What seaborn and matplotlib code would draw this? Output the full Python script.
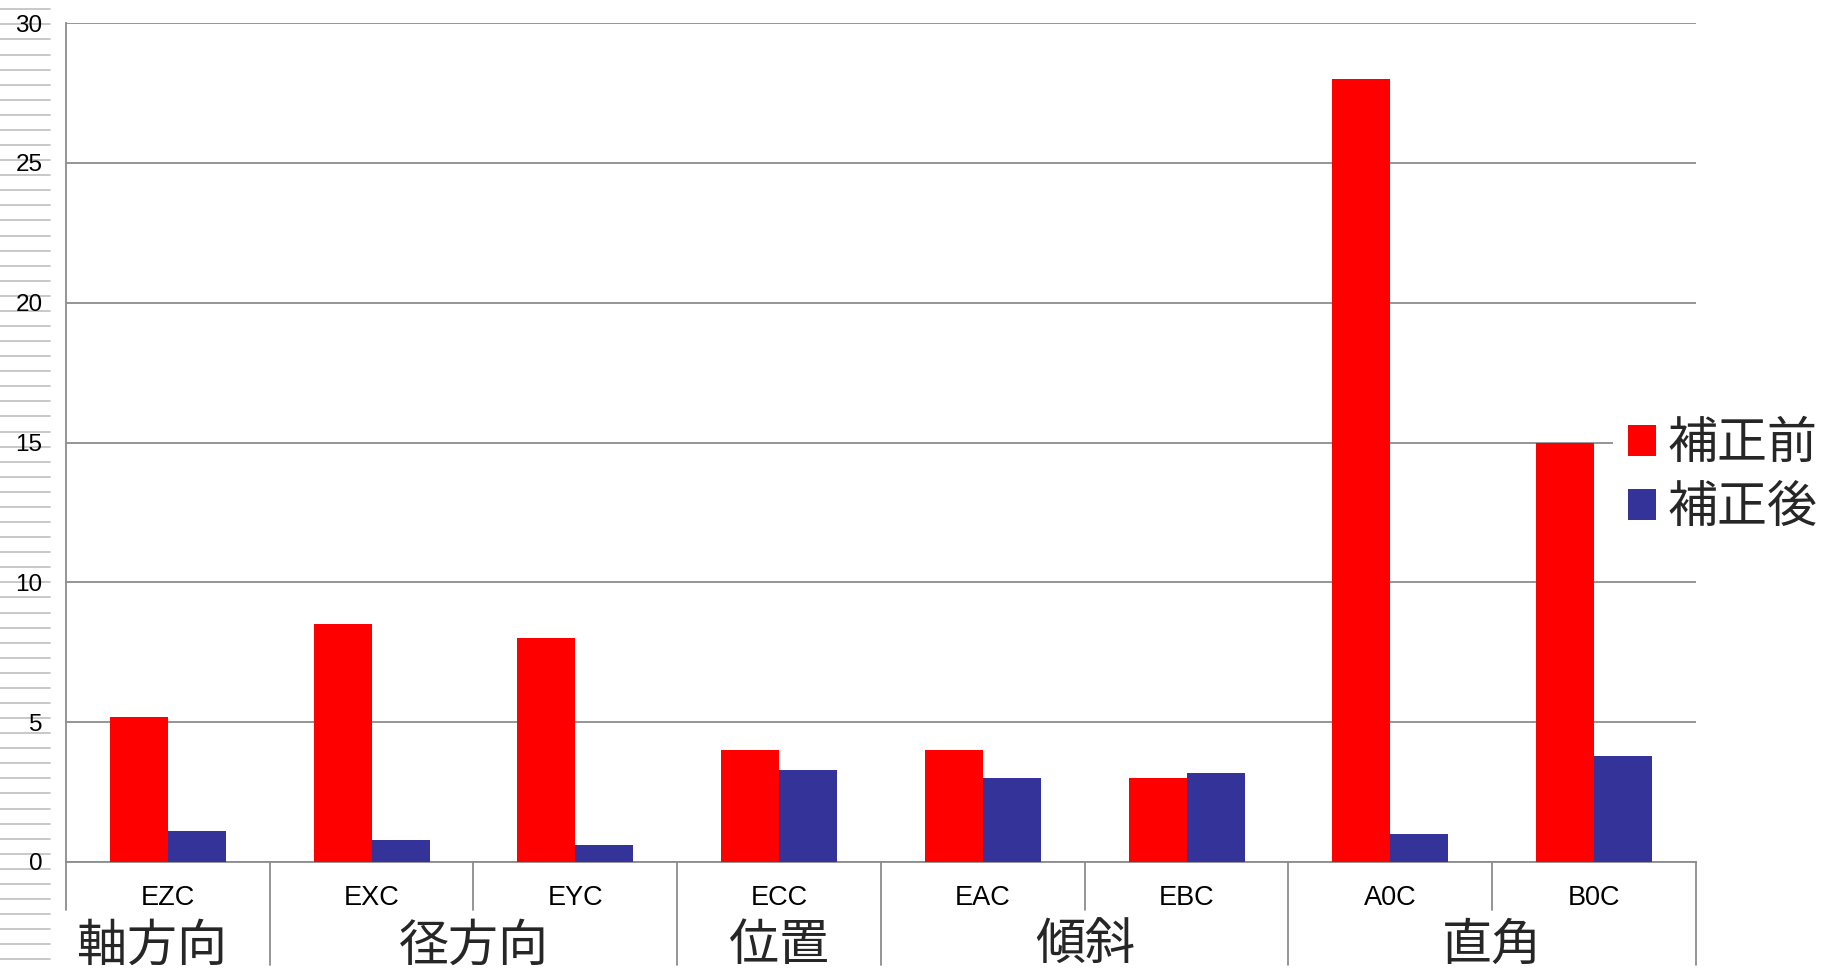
import matplotlib
matplotlib.use("Agg")
import matplotlib.pyplot as plt
from matplotlib.lines import Line2D
from matplotlib.patches import Patch
import matplotlib.transforms as mtransforms
import seaborn as sns
import pandas as pd

# ---- data ----
categories = ["EZC", "EXC", "EYC", "ECC", "EAC", "EBC", "A0C", "B0C"]
before = [5.2, 8.5, 8.0, 4.0, 4.0, 3.0, 28.0, 15.0]
after = [1.1, 0.8, 0.6, 3.3, 3.0, 3.2, 1.0, 3.8]
series_names = ["補正前", "補正後"]
group_names = ["軸方向", "径方向", "位置", "傾斜", "直角"]
group_sizes = [1, 2, 1, 2, 2]
yticks = [0, 5, 10, 15, 20, 25, 30]

colors = ["#ff0000", "#333399"]
grid_color = "#8c8c8c"

df = pd.DataFrame({
    "cat": categories * 2,
    "val": before + after,
    "series": [series_names[0]] * len(categories) + [series_names[1]] * len(categories),
})

sns.set_style("white")
plt.rcParams["font.family"] = ["Liberation Sans", "Noto Sans CJK JP", "DejaVu Sans"]

W, H = 1827, 968
fig = plt.figure(figsize=(W / 100, H / 100), dpi=100)
ax_left, ax_right, ax_top, ax_bottom = 66, 1696, 23, 862
ax = fig.add_axes([ax_left / W, (H - ax_bottom) / H,
                   (ax_right - ax_left) / W, (ax_bottom - ax_top) / H])

# decorative ruled lines on the far left
for k in range(64):
    yy = 1 - (9.3 + k * 15.08) / H
    fig.add_artist(Line2D([0, 50 / W], [yy, yy], transform=fig.transFigure,
                          color="#c4c4c4", lw=1.3, zorder=-5))

sns.barplot(data=df, x="cat", y="val", hue="series", palette=colors,
            width=0.57, gap=0, dodge=True, legend=False, ax=ax,
            saturation=1, edgecolor="none", zorder=3, errorbar=None)

ax.set_xlim(-0.5, len(categories) - 0.5)
ax.set_ylim(0, 30)
ax.set_yticks(yticks)
ax.set_yticklabels([str(t) for t in yticks], fontsize=17.5)
ax.set_xlabel("")
ax.set_ylabel("")
ax.grid(axis="y", color=grid_color, lw=1.3, zorder=0)
ax.set_axisbelow(True)
for s in ["top", "right"]:
    ax.spines[s].set_visible(False)
for s in ["left", "bottom"]:
    ax.spines[s].set_color(grid_color)
    ax.spines[s].set_linewidth(1.3)
ax.tick_params(axis="y", length=6, width=1.3, color=grid_color, pad=11, labelcolor="black")
ax.tick_params(axis="x", length=0, pad=16.5, labelsize=19.5, labelcolor="black")

# category separators
trans = mtransforms.blended_transform_factory(ax.transData, ax.transAxes)
short = -48 / (ax_bottom - ax_top)
long_ = -103 / (ax_bottom - ax_top)
group_edges = [0]
for g in group_sizes:
    group_edges.append(group_edges[-1] + g)
for i in range(len(categories) + 1):
    x = i - 0.5
    y1 = long_ if i in group_edges[1:] else short
    ax.add_line(Line2D([x, x], [0, y1], transform=trans, color=grid_color,
                       lw=1.3, clip_on=False))

# group labels
for gi, (name, s, e) in enumerate(zip(group_names, group_edges[:-1], group_edges[1:])):
    xc = (s + e - 1) / 2
    if gi == 0:
        xc -= 0.08
    ax.text(xc, -(947 - ax_bottom) / (ax_bottom - ax_top), name, transform=trans,
            ha="center", va="center", fontsize=36, clip_on=False)

# legend
handles = [Patch(facecolor=c, edgecolor="none") for c in colors]
leg = ax.legend(handles, series_names, loc="center left",
                bbox_to_anchor=(1613 / W, 1 - 477 / H), bbox_transform=fig.transFigure,
                fontsize=36, frameon=True, facecolor="white", edgecolor="none",
                framealpha=1, fancybox=False, handlelength=0.56, handleheight=0.56,
                handletextpad=0.22, labelspacing=0.36, borderpad=0.3, borderaxespad=0)

fig.savefig("out.png", dpi=100)
